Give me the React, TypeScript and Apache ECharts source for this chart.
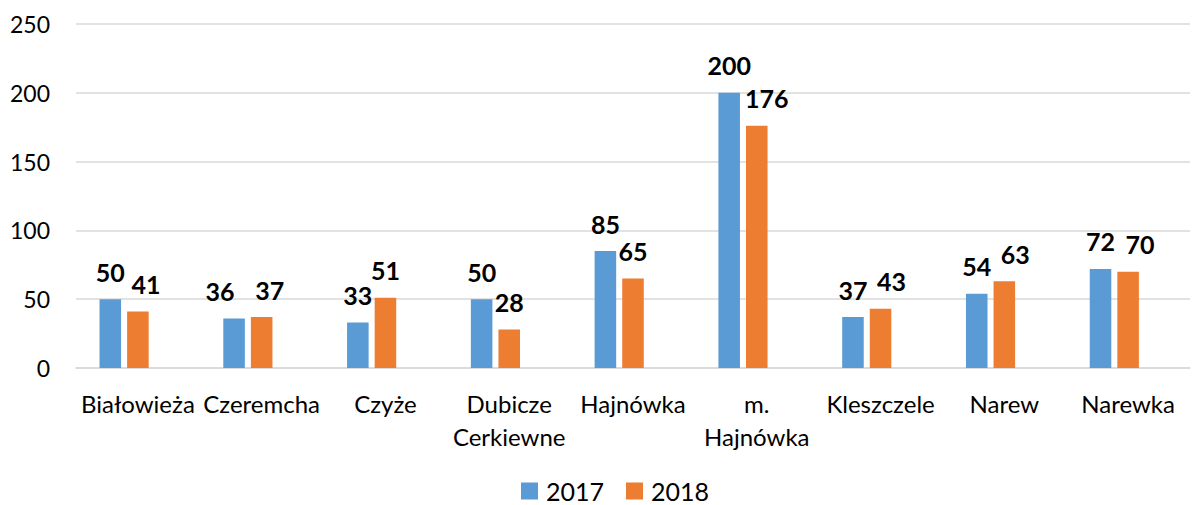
import React, { useEffect, useRef } from "react";
import * as echarts from "echarts";

const categories = [
  "Białowieża",
  "Czeremcha",
  "Czyże",
  "Dubicze Cerkiewne",
  "Hajnówka",
  "m. Hajnówka",
  "Kleszczele",
  "Narew",
  "Narewka",
];
const values2017 = [50, 36, 33, 50, 85, 200, 37, 54, 72];
const values2018 = [41, 37, 51, 28, 65, 176, 43, 63, 70];
const emptySeries = categories.map(() => "-");
const yTicks = { min: 0, max: 250, interval: 50 };

// horizontal nudges of the data labels (styling only)
const labelShift2017 = [0, -14, 0, 0, 0, 0, 0, 0, 0];
const labelShift2018 = [8, 8, 0, 0, 0, 10, 11, 11, 12];

const FONT = "Lato, 'Open Sans', sans-serif";

export default function App() {
  const ref = useRef<HTMLDivElement>(null);
  useEffect(() => {
    if (!ref.current) return;
    const chart = echarts.init(ref.current, null, { renderer: "svg" });
    const labelStyle = {
      show: true,
      position: "top" as const,
      distance: 15,
      fontFamily: FONT,
      fontSize: 25,
      fontWeight: "bold" as const,
      color: "#000",
    };
    const withShift = (vals: number[], shifts: number[]) =>
      vals.map((v, i) => ({ value: v, label: { offset: [shifts[i], 0] } }));
    chart.setOption({
      animation: false,
      textStyle: { fontFamily: FONT },
      grid: { left: 76, right: 2, top: 24, bottom: 137, containLabel: false },
      legend: {
        data: ["2017", "2018"],
        top: 478,
        left: 521,
        itemWidth: 17,
        itemHeight: 17,
        itemGap: 22,
        padding: 0,
        icon: "rect",
        textStyle: {
          fontFamily: FONT,
          fontSize: 25,
          lineHeight: 26,
          color: "#000",
          padding: [0, 0, 0, 3],
        },
      },
      xAxis: {
        type: "category",
        data: categories,
        axisLine: { show: true, lineStyle: { color: "#D9D9D9", width: 1.5 } },
        axisTick: { show: false },
        axisLabel: {
          interval: 0,
          margin: 19,
          fontFamily: FONT,
          fontSize: 24,
          color: "#000",
          lineHeight: 33,
          formatter: (v: string) => v.replace(" ", "\n"),
        },
      },
      yAxis: {
        type: "value",
        min: yTicks.min,
        max: yTicks.max,
        interval: yTicks.interval,
        axisLine: { show: false },
        axisTick: { show: false },
        splitLine: { lineStyle: { color: "#D9D9D9", width: 1.5 } },
        axisLabel: { margin: 26, fontFamily: FONT, fontSize: 23, color: "#000" },
      },
      series: [
        {
          name: "2017",
          type: "bar",
          data: withShift(values2017, labelShift2017),
          itemStyle: { color: "#5B9BD5" },
          barGap: "28%",
          barCategoryGap: "38%",
          label: labelStyle,
        },
        {
          name: "2018",
          type: "bar",
          data: withShift(values2018, labelShift2018),
          itemStyle: { color: "#ED7D31" },
          label: labelStyle,
        },
        {
          name: "",
          type: "bar",
          data: emptySeries,
          itemStyle: { color: "transparent" },
        },
      ],
    });
    return () => chart.dispose();
  }, []);
  return (
    <div
      ref={ref}
      style={{ position: "fixed", left: 0, top: 0, width: 1192, height: 505, background: "#fff" }}
    />
  );
}
